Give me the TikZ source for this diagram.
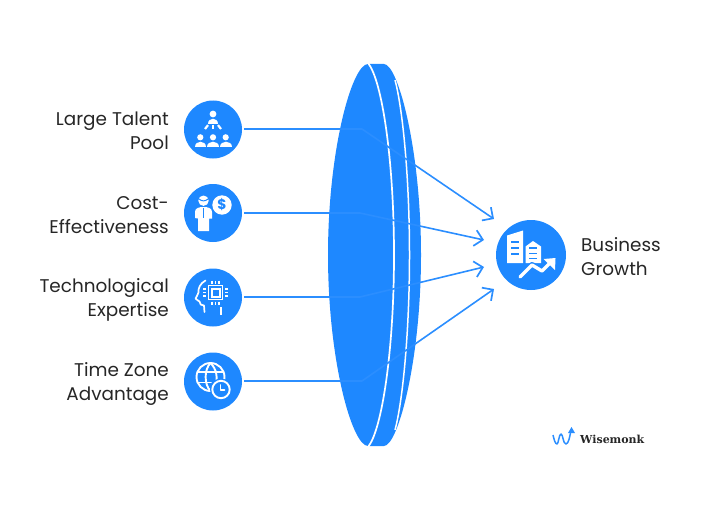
\documentclass[tikz,border=0pt]{standalone}
\usepackage{fontspec}
\setmainfont{Poppins}
\newfontfamily\logofont{DejaVu Serif}
\usetikzlibrary{arrows.meta}
\definecolor{bb}{HTML}{1E88FF}
\definecolor{ln}{HTML}{2B8EFF}
\tikzset{
 link/.style={draw=ln,line width=1.6pt,line join=round,-{Straight Barb[length=8pt,width=16pt,line width=1.7pt]}},
 disc/.style={circle,fill=bb,inner sep=0pt,minimum size=58pt},
 lab/.style={align=right,anchor=east,font=\fontsize{18.4}{24}\selectfont,text=black!85,inner sep=0pt},
 il/.style={draw=white,line width=1.9pt,fill=none,line cap=round,line join=round},
}
\newcommand{\personA}[4]{\fill[white] (#1,#2) circle (#3);
 \fill[white] (#1-#4,#2+#3+6.4) .. controls (#1-#4,#2+#3-.2) and (#1+#4,#2+#3-.2) .. (#1+#4,#2+#3+6.4) -- cycle;}
\begin{document}
\begin{tikzpicture}[x=1pt,y=-1pt]
\useasboundingbox (0,0) rectangle (708,508);
% lens
\fill[bb] (368,64) .. controls (352,64) and (328,150) .. (328,255)
  .. controls (328,360) and (352,446) .. (368,446) -- (384,446)
  .. controls (398,446) and (421,360) .. (421,255)
  .. controls (421,150) and (398,64) .. (384,64) -- cycle;
\draw[white,line width=1.7pt] (368,63) .. controls (382,80) and (394,160) .. (394,255)
  .. controls (394,350) and (382,430) .. (368,447);
\draw[white,line width=1.5pt] (395,80) .. controls (403,110) and (409.5,180) .. (409.5,255)
  .. controls (409.5,330) and (403,400) .. (395,430);
% discs
\node[disc] (n1) at (213,129.5) {};
\node[disc] (n2) at (213,213) {};
\node[disc] (n3) at (213,297.5) {};
\node[disc] (n4) at (213,381.5) {};
\node[disc,minimum size=70pt] (out) at (531,255) {};
% labels
\node[lab] (t1) at (169,130.5) {Large Talent\\Pool};
\node[lab] (t2) at (169,215) {Cost-\\Effectiveness};
\node[lab] (t3) at (169,299.5) {Technological\\Expertise};
\node[lab] (t4) at (169,383.5) {Time Zone\\Advantage};
\node[lab,align=left,anchor=west] (t5) at (581,256.5) {Business\\Growth};
% connectors
\coordinate (a1) at (494,219);\coordinate (a2) at (484,240);
\coordinate (a3) at (484,267);\coordinate (a4) at (494,289);
\coordinate (b1) at (362,129);\coordinate (b2) at (360,213);
\coordinate (b3) at (360,297);\coordinate (b4) at (362,381);
\draw[link] ([xshift=2pt]n1.east|-b1) -- (b1) -- (a1);
\draw[link] ([xshift=2pt]n2.east|-b2) -- (b2) -- (a2);
\draw[link] ([xshift=2pt]n3.east|-b3) -- (b3) -- (a3);
\draw[link] ([xshift=2pt]n4.east|-b4) -- (b4) -- (a4);
% icon 1
\begin{scope}[shift={(n1.center)}]
 \personA{0}{-15.5}{3.4}{5.2}
 \personA{-12.7}{7.8}{3.1}{5.8}
 \personA{0}{7.8}{3.1}{5.8}
 \personA{12.7}{7.8}{3.1}{5.8}
 \draw[il,line width=2.2pt,line cap=butt] (-8,-.5) -- (-5,-4.4);
 \draw[il,line width=2.2pt,line cap=butt] (0,-4.8) -- (0,-.5);
 \draw[il,line width=2.2pt,line cap=butt] (8,-.5) -- (5,-4.4);
\end{scope}
% icon 2
\begin{scope}[shift={(n2.center)}]
 \fill[white] (-9.5,-12.3) circle (5.2);
 \draw[bb,line width=1pt] (-14,-14) .. controls (-11,-11.5) and (-8,-11.5) .. (-5,-14);
 \fill[white] (-18,5) -- (-18,-1) .. controls (-18,-5) and (-14,-6) .. (-9.5,-6)
   .. controls (-5,-6) and (-1,-5) .. (-1,-1) -- (-1,5.5) -- (-4,5.5) -- (-4,18) -- (-15,18) -- (-15,5.5) -- cycle;
 \draw[bb,line width=1pt] (-9.5,-5) -- (-9.5,5);
 \fill[white] (9,-8) circle (9.7);
 \node[text=bb,inner sep=0pt,font=\fontsize{14}{14}\selectfont\bfseries] (d) at (9,-8) {\$};
\end{scope}
% icon 3
\begin{scope}[shift={(n3.center)}]
 \draw[il,line width=1.7pt] (-7.5,-17) .. controls (-13,-14) and (-15,-9) .. (-14.5,-5)
  .. controls (-15,-2) and (-17.5,0) .. (-17.5,1) .. controls (-17,3) and (-14,2.5) .. (-13.5,4)
  .. controls (-13,7) and (-12,8) .. (-9,8) -- (-8.5,14.5);
 \draw[white,line width=1.5pt] (-4.5,-12) rectangle (9.5,2);
 \fill[white] (-2.5,-10) rectangle (7.5,0);
 \fill[bb] (-.5,-8) rectangle (5.5,-2);
 \foreach \p in {-1,2.5,6}{
  \draw[white,line width=1.3pt] (\p,-17) -- (\p,-14);
  \draw[white,line width=1.3pt] (\p,4) -- (\p,7);
 }
 \foreach \p in {-8.5,-5,-1.5}{
  \draw[white,line width=1.3pt] (-10,\p) -- (-7,\p);
  \draw[white,line width=1.3pt] (12,\p) -- (15,\p);
 }
 \draw[white,line width=1.5pt] (8,9.5) -- (8,17);
\end{scope}
% icon 4
\begin{scope}[shift={(n4.center)}]
 \draw[il] (-2.5,-4.5) circle (14);
 \draw[il] (-2.5,-18.5) .. controls (-9,-12) and (-9,3) .. (-2.5,9.5);
 \draw[il] (-2.5,-18.5) .. controls (4,-12) and (4,-4) .. (3.5,-1);
 \draw[il] (-15,-9.5) -- (10,-9.5);
 \draw[il] (-15.5,1) -- (-2,1);
 \fill[bb] (8,8) circle (11);
 \draw[il] (8,8) circle (8.7);
 \draw[il,line width=1.6pt] (7.5,3.5) -- (7.5,8.5) -- (11.5,8.5);
\end{scope}
% big icon
\begin{scope}[shift={(out.center)}]
 \fill[white] (-24,-19.5) -- (-8,-24.5) -- (-8,8) -- (-24,8) -- cycle;
 \foreach \p in {-13,-7,-1.5}\fill[bb] (-20,\p-1) rectangle (-12,\p+1);
 \fill[white] (-5.5,-8.5) -- (2,-14) -- (10,-8.5) -- (10,8) -- (-5.5,8) -- cycle;
 \foreach \p in {-7,-1.5,3.5}\fill[bb] (-2,\p-.8) rectangle (6,\p+.8);
 \draw[bb,line width=6pt,line join=round] (-11,22) -- (1,10) -- (11,16) -- (20,7);
 \draw[white,line width=3.4pt,line cap=round,line join=round] (-11,22) -- (1,10) -- (11,16) -- (20,7);
 \fill[white] (12.5,4) -- (24.5,3) -- (24,15) -- cycle;
\end{scope}
% logo
\coordinate (w0) at (553,435);\coordinate (w1) at (557,444);\coordinate (w2) at (561,434);
\coordinate (w3) at (566,444);\coordinate (w4) at (571,430);
\draw[ln,line width=1.5pt,line join=round] (w0) .. controls (554,439) and (555,444) .. (w1)
 .. controls (558.5,444) and (559,434) .. (w2) .. controls (563,434) and (563,444) .. (w3)
 .. controls (568.5,444) and (570,436) .. (w4);
\fill[ln] (571.5,427) -- (568,433) -- (575,433) -- cycle;
\node[anchor=west,inner sep=0pt,font=\logofont\bfseries\fontsize{11}{12}\selectfont,text=black!85] (lg) at (580,439) {Wisemonk};
\end{tikzpicture}
\end{document}
